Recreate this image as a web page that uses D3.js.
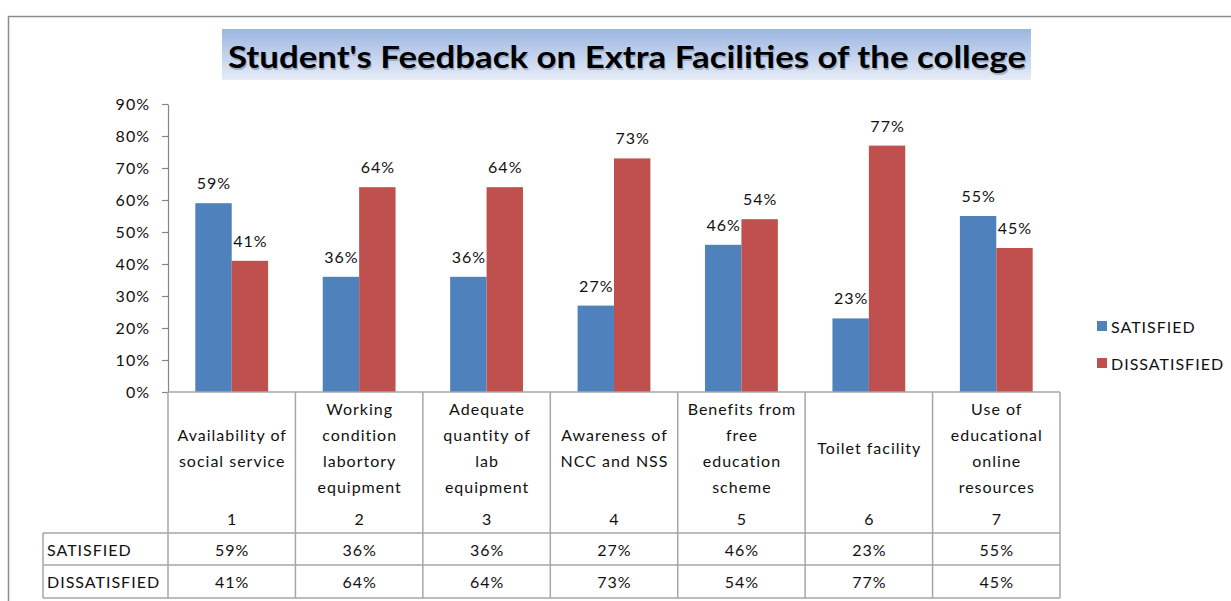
<!DOCTYPE html>
<html>
<head>
<meta charset="utf-8">
<script src="https://cdn.jsdelivr.net/npm/d3@7/dist/d3.min.js"></script>
<style>
  html, body { margin: 0; padding: 0; background: #fff; }
  svg { display: block; font-family: Lato, "Open Sans", sans-serif; }
  .txt { letter-spacing: 1px; }
</style>
</head>
<body>
<svg id="chart" width="1231" height="601"></svg>
<script>
const title = "Student's Feedback on Extra Facilities of the college";
const categoryNumbers = ["1", "2", "3", "4", "5", "6", "7"];
const categoryLabels = [
  ["Availability of", "social service"],
  ["Working", "condition", "labortory", "equipment"],
  ["Adequate", "quantity of", "lab", "equipment"],
  ["Awareness of", "NCC and NSS"],
  ["Benefits from", "free", "education", "scheme"],
  ["Toilet facility"],
  ["Use of", "educational", "online", "resources"]
];
const seriesNames = ["SATISFIED", "DISSATISFIED"];
const satisfied = [59, 36, 36, 27, 46, 23, 55];
const dissatisfied = [41, 64, 64, 73, 54, 77, 45];
const yTicks = [0, 10, 20, 30, 40, 50, 60, 70, 80, 90];
const colors = { SATISFIED: "#4F81BD", DISSATISFIED: "#C0504D" };

const svg = d3.select("#chart");
const gridColor = "#a6a6a6";
const textColor = "#111";
const fontSize = 16;

const plot = { left: 168, right: 1060, top: 104, bottom: 392 };
const table = { left: 43, rowTop: 533, rowMid: 565, rowBottom: 598 };

const x = d3.scaleBand()
  .domain(categoryNumbers)
  .range([plot.left, plot.right]);

const xInner = d3.scaleBand()
  .domain(seriesNames)
  .range([0, x.bandwidth()])
  .paddingOuter(0.75);

const y = d3.scaleLinear()
  .domain([0, 90])
  .range([plot.bottom, plot.top]);

// outer chart border (top and left only visible)
svg.append("path")
  .attr("d", "M8.5,601 V16.5 H1231")
  .attr("fill", "none")
  .attr("stroke", "#8c8c8c")
  .attr("stroke-width", 1.5);

// title with gradient box
const defs = svg.append("defs");
const grad = defs.append("linearGradient")
  .attr("id", "titleGrad")
  .attr("x1", 0).attr("y1", 0).attr("x2", 0).attr("y2", 1);
grad.append("stop").attr("offset", "0%").attr("stop-color", "#9cb6e1");
grad.append("stop").attr("offset", "100%").attr("stop-color", "#e6ecf7");

svg.append("rect")
  .attr("x", 222).attr("y", 29)
  .attr("width", 809).attr("height", 51)
  .attr("fill", "url(#titleGrad)");

// soft shadow under the title text
svg.append("text")
  .attr("x", 628).attr("y", 57.5)
  .attr("text-anchor", "middle")
  .attr("dominant-baseline", "central")
  .attr("font-size", 31)
  .attr("font-weight", "bold")
  .attr("fill", "#7f8fa8")
  .attr("opacity", 0.6)
  .attr("textLength", 798)
  .attr("lengthAdjust", "spacingAndGlyphs")
  .text(title);

svg.append("text")
  .attr("x", 627).attr("y", 56)
  .attr("text-anchor", "middle")
  .attr("dominant-baseline", "central")
  .attr("font-size", 31)
  .attr("font-weight", "bold")
  .attr("fill", "#000")
  .attr("textLength", 798)
  .attr("lengthAdjust", "spacingAndGlyphs")
  .text(title);

// y axis
const yAxis = svg.append("g")
  .attr("transform", `translate(${plot.left},0)`)
  .call(d3.axisLeft(y)
    .tickValues(yTicks)
    .tickFormat(d => d + "%")
    .tickSize(6)
    .tickSizeOuter(0)
    .tickPadding(12));

yAxis.select(".domain").attr("stroke", "#868686").attr("stroke-width", 1.2);
yAxis.selectAll(".tick line").attr("stroke", "#868686").attr("stroke-width", 1.2);
yAxis.selectAll(".tick text")
  .attr("class", "txt")
  .attr("font-size", fontSize)
  .attr("font-family", "Lato, sans-serif")
  .attr("fill", textColor);

// bars
const rows = categoryNumbers.map((c, i) => ({
  cat: c,
  values: [
    { key: "SATISFIED", value: satisfied[i] },
    { key: "DISSATISFIED", value: dissatisfied[i] }
  ]
}));

const groups = svg.append("g").selectAll("g")
  .data(rows)
  .join("g")
  .attr("transform", d => `translate(${x(d.cat)},0)`);

groups.selectAll("rect")
  .data(d => d.values)
  .join("rect")
  .attr("x", d => xInner(d.key))
  .attr("y", d => y(d.value))
  .attr("width", xInner.bandwidth())
  .attr("height", d => y(0) - y(d.value))
  .attr("fill", d => colors[d.key]);

groups.selectAll("text.lbl")
  .data(d => d.values)
  .join("text")
  .attr("class", "lbl txt")
  .attr("x", d => xInner(d.key) + xInner.bandwidth() / 2 + 0.5)
  .attr("y", d => y(d.value) - 14)
  .attr("text-anchor", "middle")
  .attr("font-size", fontSize)
  .attr("fill", textColor)
  .text(d => d.value + "%");

// data table
const tableG = svg.append("g")
  .attr("stroke", gridColor)
  .attr("stroke-width", 1.5)
  .attr("fill", "none");

const colEdges = [plot.left, ...categoryNumbers.map(c => x(c) + x.bandwidth())];

colEdges.forEach(cx => {
  tableG.append("line")
    .attr("x1", cx).attr("x2", cx)
    .attr("y1", plot.bottom).attr("y2", table.rowBottom);
});

tableG.append("line")
  .attr("x1", table.left).attr("x2", table.left)
  .attr("y1", table.rowTop).attr("y2", table.rowBottom);

tableG.append("line")
  .attr("x1", plot.left).attr("x2", plot.right)
  .attr("y1", plot.bottom).attr("y2", plot.bottom);

[table.rowTop, table.rowMid, table.rowBottom].forEach(ry => {
  tableG.append("line")
    .attr("x1", table.left).attr("x2", plot.right)
    .attr("y1", ry).attr("y2", ry);
});

// category labels and table values
const lineHeight = 26;
categoryNumbers.forEach((c, i) => {
  const lines = categoryLabels[i];
  const cx = x(c) + x.bandwidth() / 2 + 0.5;
  const startY = 447 - (lines.length - 1) * lineHeight / 2;
  const t = svg.append("text")
    .attr("class", "txt")
    .attr("text-anchor", "middle")
    .attr("font-size", fontSize)
    .attr("fill", textColor);
  lines.forEach((ln, j) => {
    t.append("tspan")
      .attr("x", cx)
      .attr("y", startY + j * lineHeight)
      .attr("dominant-baseline", "central")
      .text(ln);
  });

  svg.append("text")
    .attr("class", "txt")
    .attr("x", cx).attr("y", 518)
    .attr("text-anchor", "middle")
    .attr("dominant-baseline", "central")
    .attr("font-size", fontSize)
    .attr("fill", textColor)
    .text(c);

  svg.append("text")
    .attr("class", "txt")
    .attr("x", cx).attr("y", (table.rowTop + table.rowMid) / 2)
    .attr("text-anchor", "middle")
    .attr("dominant-baseline", "central")
    .attr("font-size", fontSize)
    .attr("fill", textColor)
    .text(satisfied[i] + "%");

  svg.append("text")
    .attr("class", "txt")
    .attr("x", cx).attr("y", (table.rowMid + table.rowBottom) / 2)
    .attr("text-anchor", "middle")
    .attr("dominant-baseline", "central")
    .attr("font-size", fontSize)
    .attr("fill", textColor)
    .text(dissatisfied[i] + "%");
});

// row headers
seriesNames.forEach((s, i) => {
  const ry = i === 0 ? (table.rowTop + table.rowMid) / 2 : (table.rowMid + table.rowBottom) / 2;
  svg.append("text")
    .attr("class", "txt")
    .attr("x", table.left + 4).attr("y", ry)
    .attr("dominant-baseline", "central")
    .attr("font-size", fontSize)
    .attr("fill", textColor)
    .text(s);
});

// legend
const legend = svg.append("g")
  .selectAll("g")
  .data(seriesNames)
  .join("g")
  .attr("transform", (d, i) => `translate(1097,${326 + i * 37})`);

legend.append("rect")
  .attr("x", 0).attr("y", -5)
  .attr("width", 10).attr("height", 10)
  .attr("fill", d => colors[d]);

legend.append("text")
  .attr("class", "txt")
  .attr("x", 14).attr("y", 0)
  .attr("dominant-baseline", "central")
  .attr("font-size", fontSize)
  .attr("fill", textColor)
  .text(d => d);
</script>
</body>
</html>
